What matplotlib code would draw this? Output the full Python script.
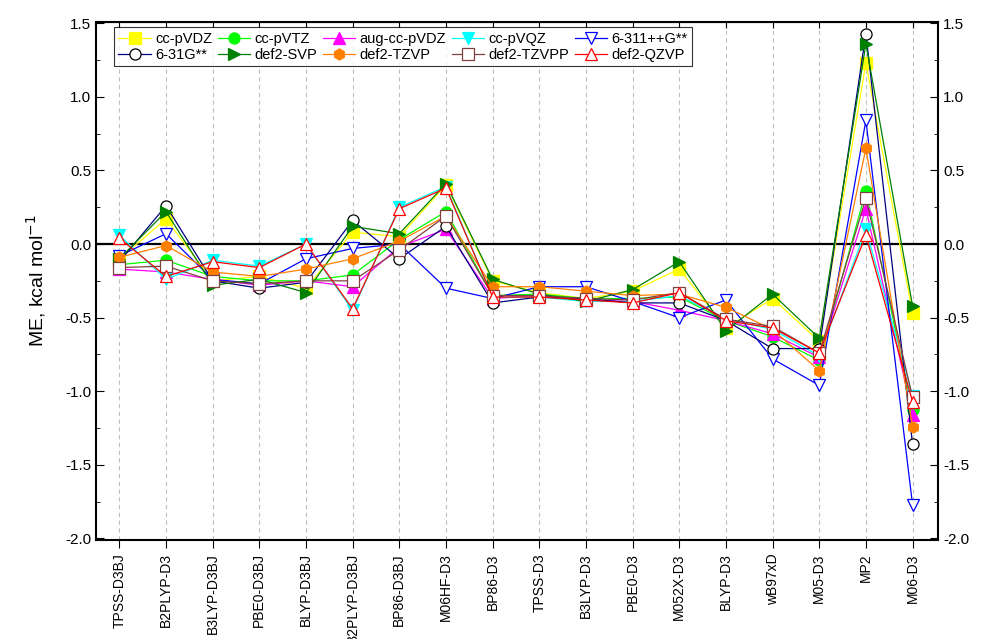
import matplotlib
matplotlib.use("Agg")
import matplotlib.pyplot as plt
from matplotlib.ticker import MultipleLocator

plt.rcParams["font.family"] = ["Liberation Sans", "DejaVu Sans"]

# ========== 数据 ==========
methods = ["TPSS-D3BJ", "B2PLYP-D3", "B3LYP-D3BJ", "PBE0-D3BJ", "BLYP-D3BJ",
           "B2PLYP-D3BJ", "BP86-D3BJ", "M06HF-D3", "BP86-D3", "TPSS-D3",
           "B3LYP-D3", "PBE0-D3", "M052X-D3", "BLYP-D3", "wB97xD", "M05-D3",
           "MP2", "M06-D3"]

cc_pvdz = [-0.10, 0.17, -0.25, -0.22, -0.30, 0.08, 0.05, 0.40, -0.25, -0.33,
           -0.37, -0.32, -0.17, -0.57, -0.37, -0.66, 1.23, -0.47]
cc_pvtz = [-0.14, -0.11, -0.22, -0.25, -0.25, -0.21, 0.03, 0.22, -0.35, -0.34,
           -0.37, -0.37, -0.36, -0.52, -0.63, -0.79, 0.36, -1.13]
aug_cc_pvdz = [-0.17, -0.19, -0.24, -0.28, -0.25, -0.29, -0.02, 0.10, -0.37, -0.35,
               -0.38, -0.39, -0.45, -0.52, -0.61, -0.77, 0.24, -1.16]
cc_pvqz = [0.06, -0.24, -0.11, -0.15, 0.00, -0.45, 0.25, 0.39, -0.36, -0.36,
           -0.39, -0.39, -0.35, -0.51, -0.58, -0.76, 0.10, -1.03]
g6_311 = [-0.08, 0.07, -0.24, -0.27, -0.10, -0.03, 0.00, -0.30, -0.37, -0.29,
          -0.29, -0.39, -0.50, -0.38, -0.78, -0.96, 0.84, -1.77]
g6_31 = [-0.12, 0.26, -0.25, -0.30, -0.26, 0.16, -0.10, 0.12, -0.40, -0.36,
         -0.37, -0.40, -0.40, -0.52, -0.71, -0.71, 1.43, -1.36]
def2_svp = [-0.10, 0.22, -0.28, -0.24, -0.33, 0.12, 0.07, 0.41, -0.24, -0.34,
            -0.39, -0.31, -0.12, -0.59, -0.34, -0.64, 1.36, -0.42]
def2_tzvp = [-0.09, -0.01, -0.19, -0.22, -0.17, -0.10, 0.02, 0.19, -0.29, -0.29,
             -0.32, -0.35, -0.34, -0.43, -0.58, -0.86, 0.65, -1.24]
def2_tzvpp = [-0.16, -0.15, -0.25, -0.27, -0.25, -0.25, -0.04, 0.19, -0.35, -0.35,
              -0.37, -0.38, -0.33, -0.51, -0.56, -0.74, 0.31, -1.04]
def2_qzvp = [0.04, -0.22, -0.12, -0.16, 0.00, -0.44, 0.24, 0.38, -0.36, -0.36,
             -0.38, -0.40, -0.33, -0.52, -0.57, -0.74, 0.06, -1.07]

series = [
    ("cc-pVDZ", cc_pvdz, "#FFFF00", "s", "#FFFF00", "#FFFF00"),
    ("cc-pVTZ", cc_pvtz, "#00FF00", "o", "#00FF00", "#00FF00"),
    ("aug-cc-pVDZ", aug_cc_pvdz, "#FF00FF", "^", "#FF00FF", "#FF00FF"),
    ("cc-pVQZ", cc_pvqz, "#00FFFF", "v", "#00FFFF", "#00FFFF"),
    ("6-311++G**", g6_311, "#0000FF", "v", "white", "#0000FF"),
    ("6-31G**", g6_31, "#000080", "o", "white", "black"),
    ("def2-SVP", def2_svp, "#008000", ">", "#008000", "#008000"),
    ("def2-TZVP", def2_tzvp, "#FF8000", "h", "#FF8000", "#FF8000"),
    ("def2-TZVPP", def2_tzvpp, "#804040", "s", "white", "#804040"),
    ("def2-QZVP", def2_qzvp, "#FF0000", "^", "white", "#FF0000"),
]

# ========== 绘图 ==========
fig = plt.figure(figsize=(9.85, 6.39), dpi=100)
ax = fig.add_axes([0.0975, 0.155, 0.855, 0.811])

x = list(range(len(methods)))
for xi in x:
    ax.axvline(xi, color="#c0c0c0", lw=0.8, ls=(0, (4, 3)), zorder=0)
ax.axhline(0, color="black", lw=1.6, zorder=1)

handles = []
for label, vals, color, marker, face, edge in series:
    h, = ax.plot(x, vals, color=color, lw=0.9, marker=marker, markersize=8,
                 markerfacecolor=face, markeredgecolor=edge, markeredgewidth=0.9,
                 label=label, zorder=3)
    handles.append(h)

ax.set_xlim(-0.5, 17.55)
ax.set_ylim(-2.01, 1.51)
ax.set_xticks(x)
ax.set_xticklabels(methods, rotation=90, fontsize=10)
ax.yaxis.set_major_locator(MultipleLocator(0.5))
ax.yaxis.set_minor_locator(MultipleLocator(0.25))
ax.yaxis.set_major_formatter(plt.FuncFormatter(lambda v, p: f"{v:.1f}"))
ax.tick_params(axis="y", which="both", direction="in", left=True, right=True,
               labelleft=True, labelright=True, labelsize=11)
ax.tick_params(axis="y", which="major", length=6)
ax.tick_params(axis="y", which="minor", length=3)
ax.tick_params(axis="x", which="major", direction="out", length=6, bottom=True, top=False)
ax.set_ylabel("ME, kcal mol$^{-1}$", fontsize=14, labelpad=12)

ax_top = ax.secondary_xaxis("top")
ax_top.set_xticks(x)
ax_top.tick_params(direction="in", length=4, labeltop=False)

for sp in ax.spines.values():
    sp.set_linewidth(1.5)

# 图例按行填充：5列2行
order = [0, 5, 1, 6, 2, 7, 3, 8, 4, 9]
leg = ax.legend([handles[i] for i in order], [series[i][0] for i in order],
                loc="upper left", bbox_to_anchor=(0.018, 0.995), ncol=5,
                fontsize=10.5, frameon=True, fancybox=False, edgecolor="black",
                borderpad=0.3, labelspacing=0.15, handlelength=2.2,
                handletextpad=0.3, columnspacing=0.4, borderaxespad=0.2)
leg.get_frame().set_linewidth(0.8)

fig.savefig("out.png", dpi=100)
